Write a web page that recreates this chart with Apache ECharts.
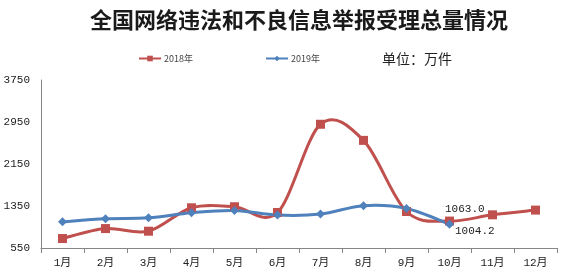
<!DOCTYPE html>
<html>
<head>
<meta charset="utf-8">
<script src="https://cdn.jsdelivr.net/npm/echarts@6/dist/echarts.min.js"></script>
<style>html,body{margin:0;padding:0;background:#fff;}#c{width:562px;height:275px;}</style>
</head>
<body>
<div id="c"></div>
<script>
var titleText = '全国网络违法和不良信息举报受理总量情况';
var unitText = '单位：万件';
var months = ['1月','2月','3月','4月','5月','6月','7月','8月','9月','10月','11月','12月'];
var series2018Name = '2018年';
var series2019Name = '2019年';
var values2018 = [730, 920, 870, 1316, 1336, 1226, 2907, 2600, 1245, 1063.0, 1182, 1272];
var values2019 = [1048, 1106, 1125, 1221, 1265, 1177, 1196, 1355, 1303, 1004.2];
var yMin = 550, yMax = 3750, yStep = 800;
var labelIndex2018 = 9;
var labelIndex2019 = 9;

var red = '#C0504D', blue = '#4F81BD';
var numFont = '"Liberation Mono", "Noto Sans CJK SC", monospace';

function buildData(vals, idx, labelCfg) {
  return vals.map(function (v, i) {
    if (i === idx) {
      return { value: v, label: labelCfg };
    }
    return v;
  });
}

// Smooth curve (Excel-style Catmull-Rom) drawn through the chart's own coordinate system
function smoothCurve(vals, color) {
  return function (params, api) {
    var pts = vals.map(function (v, i) { return api.coord([i, v]); });
    var n = pts.length;
    var d = 'M' + pts[0][0] + ' ' + pts[0][1];
    for (var i = 0; i < n - 1; i++) {
      var p0 = pts[Math.max(i - 1, 0)], p1 = pts[i], p2 = pts[i + 1], p3 = pts[Math.min(i + 2, n - 1)];
      var c1x = p1[0] + (p2[0] - p0[0]) / 6, c1y = p1[1] + (p2[1] - p0[1]) / 6;
      var c2x = p2[0] - (p3[0] - p1[0]) / 6, c2y = p2[1] - (p3[1] - p1[1]) / 6;
      d += ' C' + c1x + ' ' + c1y + ' ' + c2x + ' ' + c2y + ' ' + p2[0] + ' ' + p2[1];
    }
    return { type: 'path', shape: { pathData: d },
      style: { fill: 'none', stroke: color, lineWidth: 3, lineJoin: 'round' } };
  };
}

var chart = echarts.init(document.getElementById('c'), null, { renderer: 'canvas' });
chart.setOption({
  backgroundColor: '#fff',
  animation: false,
  title: [
    { text: titleText, left: 85, top: 4,
      textStyle: { fontFamily: '"Noto Sans CJK SC"', fontSize: 22, fontWeight: 'bold', color: '#1a1a1a' } },
    { text: unitText, left: 377, top: 47,
      textStyle: { fontFamily: '"Noto Sans CJK SC"', fontSize: 14, fontWeight: 'normal', color: '#222' } }
  ],
  legend: {
    left: 133, top: 49, itemGap: 72, itemWidth: 22, itemHeight: 7,
    textStyle: { fontFamily: '"Noto Sans CJK SC"', fontSize: 9, color: '#444', padding: [0,0,0,-2] },
    data: [
      { name: series2018Name, lineStyle: { opacity: 1, width: 2, color: red } },
      { name: series2019Name, lineStyle: { opacity: 1, width: 2, color: blue } }
    ]
  },
  grid: { left: 41, right: 5, top: 80, bottom: 27, containLabel: false },
  xAxis: {
    type: 'category', data: months, boundaryGap: true,
    axisLine: { lineStyle: { color: '#868686', width: 1 } },
    axisTick: { show: true, length: 5, lineStyle: { color: '#868686' } },
    axisLabel: { fontFamily: numFont, fontSize: 11, color: '#222', margin: 10 }
  },
  yAxis: {
    type: 'value', min: yMin, max: yMax, interval: yStep,
    axisLine: { show: true, lineStyle: { color: '#868686', width: 1 } },
    axisTick: { show: false },
    splitLine: { show: false },
    axisLabel: { fontFamily: numFont, fontSize: 11, color: '#222', margin: 11,
      formatter: function (v) { return String(v); } }
  },
  series: [
    {
      type: 'custom', name: 'curve2018', coordinateSystem: 'cartesian2d', z: 1,
      data: [[0, yMin]], renderItem: smoothCurve(values2018, red), silent: true
    },
    {
      type: 'custom', name: 'curve2019', coordinateSystem: 'cartesian2d', z: 1,
      data: [[0, yMin]], renderItem: smoothCurve(values2019, blue), silent: true
    },
    {
      name: series2018Name, type: 'line', z: 3,
      data: buildData(values2018, labelIndex2018, {
        show: true, position: 'right', offset: [-14, -12],
        fontFamily: numFont, fontSize: 11, color: '#222',
        formatter: function (p) { return Number(p.value).toFixed(1); }
      }),
      symbol: 'rect', symbolSize: 9,
      lineStyle: { color: red, width: 3, opacity: 0 },
      itemStyle: { color: red }
    },
    {
      name: series2019Name, type: 'line', z: 3,
      data: buildData(values2019, labelIndex2019, {
        show: true, position: 'right', offset: [-4, 7],
        fontFamily: numFont, fontSize: 11, color: '#222',
        formatter: function (p) { return Number(p.value).toFixed(1); }
      }),
      symbol: 'diamond', symbolSize: 9,
      lineStyle: { color: blue, width: 3, opacity: 0 },
      itemStyle: { color: blue }
    }
  ]
});
</script>
</body>
</html>
